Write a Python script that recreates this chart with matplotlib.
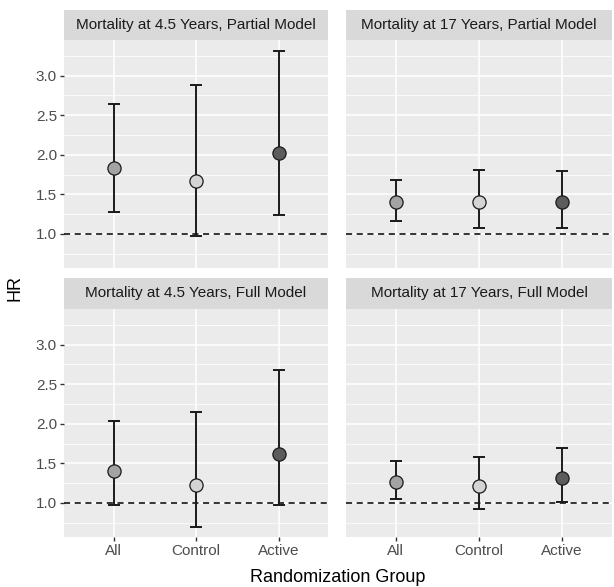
import matplotlib
matplotlib.use("Agg")
import matplotlib.pyplot as plt
import numpy as np

plt.rcParams["font.family"] = ["Liberation Sans", "DejaVu Sans"]

# Data
groups = ["All", "Control", "Active"]
fills = ["#A3A3A3", "#D4D4D4", "#5C5C5C"]

panel_titles = [
    "Mortality at 4.5 Years, Partial Model",
    "Mortality at 17 Years, Partial Model",
    "Mortality at 4.5 Years, Full Model",
    "Mortality at 17 Years, Full Model",
]
hr = [
    [1.83, 1.67, 2.02],
    [1.40, 1.40, 1.40],
    [1.41, 1.23, 1.62],
    [1.27, 1.21, 1.31],
]
lower = [
    [1.28, 0.97, 1.24],
    [1.17, 1.08, 1.08],
    [0.97, 0.70, 0.98],
    [1.05, 0.93, 1.01],
]
upper = [
    [2.64, 2.88, 3.31],
    [1.68, 1.81, 1.80],
    [2.04, 2.15, 2.68],
    [1.53, 1.58, 1.69],
]
y_ticks = [1.0, 1.5, 2.0, 2.5, 3.0]

W, H = 614, 587
fig = plt.figure(figsize=(W / 100, H / 100), dpi=100)

# panel boxes in pixels: (left, right) and (strip_top, strip_bottom, panel_bottom)
cols = [(64, 328), (346, 612)]
rows = [(10, 40, 268), (278, 309, 537)]

ylo, yhi = 0.57, 3.45
x = np.arange(1, 4)

for i in range(4):
    r, c = divmod(i, 2)
    left, right = cols[c]
    st, sb, pb = rows[r]

    # strip
    sax = fig.add_axes([left / W, 1 - sb / H, (right - left) / W, (sb - st) / H])
    sax.set_facecolor("#D9D9D9")
    sax.set_xticks([])
    sax.set_yticks([])
    for s in sax.spines.values():
        s.set_visible(False)
    sax.text(0.5, 0.5, panel_titles[i], ha="center", va="center",
             fontsize=11, color="#1A1A1A", transform=sax.transAxes)

    ax = fig.add_axes([left / W, 1 - pb / H, (right - left) / W, (pb - sb) / H])
    ax.set_facecolor("#EBEBEB")
    for s in ax.spines.values():
        s.set_visible(False)
    ax.set_xlim(0.4, 3.6)
    ax.set_ylim(ylo, yhi)
    ax.set_yticks(y_ticks)
    ax.set_yticks(np.arange(0.75, 3.5, 0.5), minor=True)
    ax.set_xticks(x)
    ax.grid(which="major", color="white", linewidth=1.1)
    ax.grid(which="minor", axis="y", color="white", linewidth=0.55)
    ax.set_axisbelow(True)
    ax.tick_params(which="minor", length=0)
    ax.tick_params(which="major", length=3, width=1, color="#333333",
                   labelsize=11, labelcolor="#4D4D4D", pad=2)

    if c == 0:
        ax.set_yticklabels([f"{v:.1f}" for v in y_ticks])
    else:
        ax.tick_params(axis="y", which="major", length=0, labelleft=False)
    if r == 1:
        ax.set_xticklabels(groups)
    else:
        ax.tick_params(axis="x", which="major", length=0, labelbottom=False)

    ax.axhline(1.0, color="black", linestyle=(0, (4, 3)), linewidth=1.1, zorder=2)

    for j in range(3):
        ax.errorbar(x[j], hr[i][j],
                    yerr=[[hr[i][j] - lower[i][j]], [upper[i][j] - hr[i][j]]],
                    fmt="none", ecolor="#1A1A1A", elinewidth=1.4,
                    capsize=4.3, capthick=1.4, zorder=3)
        ax.plot(x[j], hr[i][j], "o", markersize=9.5, markerfacecolor=fills[j],
                markeredgecolor="#1A1A1A", markeredgewidth=0.9, zorder=4)

fig.text(15 / W, 1 - 288 / H, "HR", rotation=90, ha="center", va="center",
         fontsize=13, color="black")
fig.text(338 / W, 1 - 577 / H, "Randomization Group", ha="center", va="center",
         fontsize=13, color="black")

fig.savefig("out.png", dpi=100)
